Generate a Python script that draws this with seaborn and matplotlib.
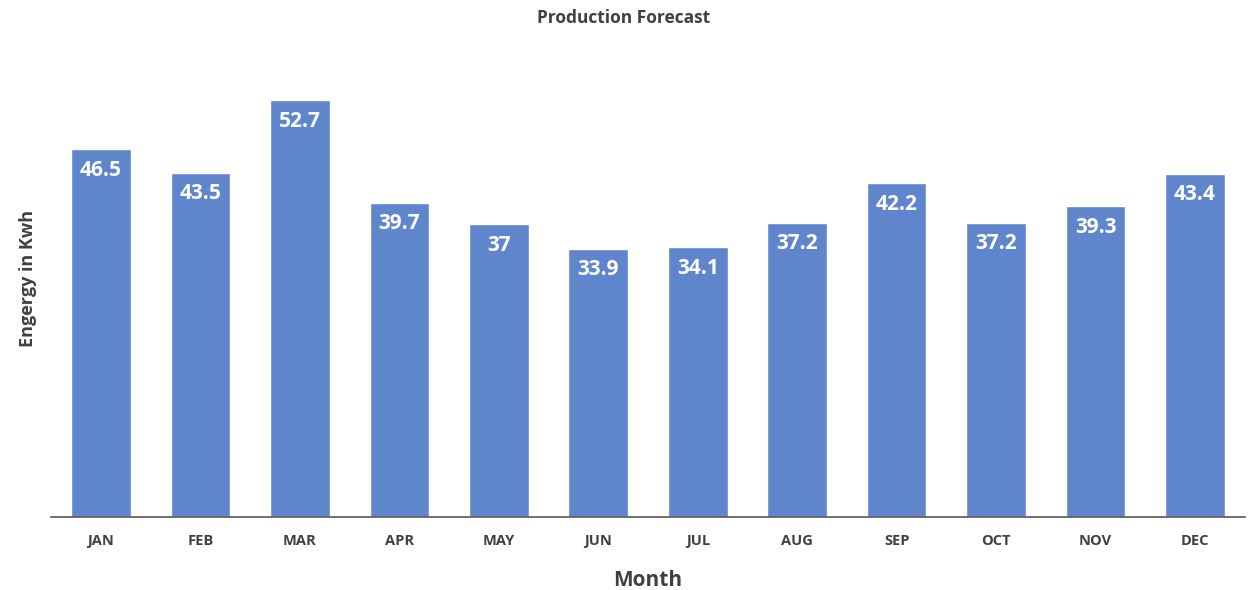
import matplotlib
matplotlib.use("Agg")
import matplotlib.pyplot as plt
import seaborn as sns
import pandas as pd

months = ["JAN", "FEB", "MAR", "APR", "MAY", "JUN", "JUL", "AUG", "SEP", "OCT", "NOV", "DEC"]
energy = [46.5, 43.5, 52.7, 39.7, 37, 33.9, 34.1, 37.2, 42.2, 37.2, 39.3, 43.4]

sns.set_theme(style="white")
plt.rcParams["font.family"] = ["Open Sans", "DejaVu Sans"]

df = pd.DataFrame({"Month": months, "Energy": energy})

fig = plt.figure(figsize=(12.52, 5.9), dpi=100)
ax = fig.add_axes([0.041, 0.1237, 0.9532, 0.8083])

bar_color = "#5f86cc"
sns.barplot(data=df, x="Month", y="Energy", color=bar_color, width=0.6,
            saturation=1, ax=ax)

ax.set_ylim(0, 60.3)
ax.set_xlim(-0.5, len(months) - 0.5)

for i, v in enumerate(energy):
    ax.annotate(f"{v:g}", xy=(i, v), xytext=(0, -15), textcoords="offset points",
                ha="center", va="center", color="white", fontsize=15,
                fontweight="bold")

ax.set_yticks([])
for side in ["top", "right", "left"]:
    ax.spines[side].set_visible(False)
ax.spines["bottom"].set_color("#595959")
ax.spines["bottom"].set_linewidth(1.2)

ax.tick_params(axis="x", length=0, pad=12, colors="#404040", labelsize=10.5)
for lbl in ax.get_xticklabels():
    lbl.set_fontweight("bold")

ax.set_xlabel("Month", fontsize=15, fontweight="bold", color="#404040", labelpad=16)
ax.set_ylabel("Engergy in Kwh", fontsize=13, fontweight="bold", color="#404040",
              labelpad=10)
fig.suptitle("Production Forecast", x=0.498, y=0.985, fontsize=12.5,
             fontweight="bold", color="#404040")

fig.savefig("out.png", dpi=100, facecolor="white")
